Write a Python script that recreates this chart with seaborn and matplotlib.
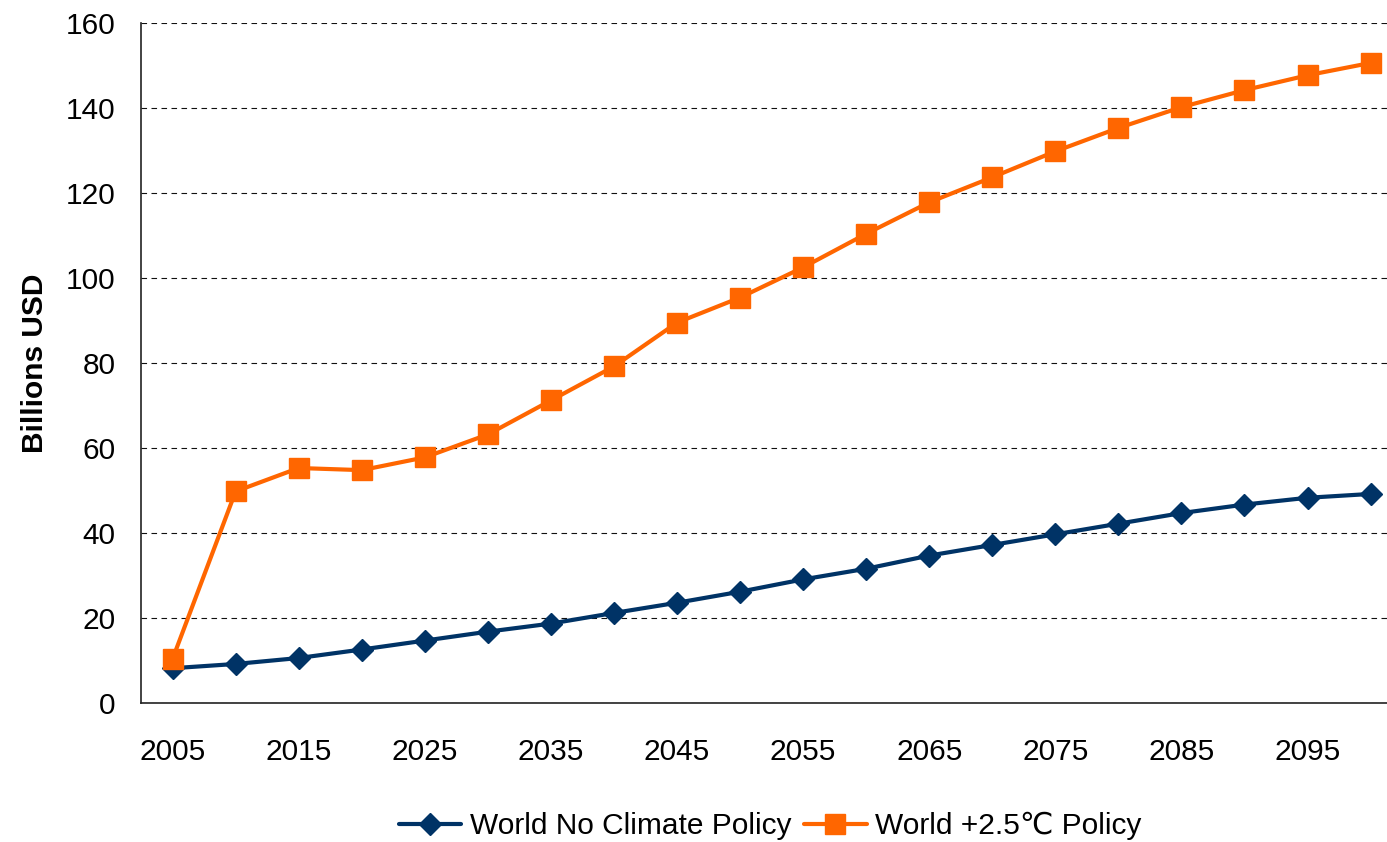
import matplotlib
matplotlib.use("Agg")
import matplotlib.pyplot as plt
import seaborn as sns
import pandas as pd
from matplotlib.ticker import FixedLocator

# values (billions USD)
years = list(range(2005, 2101, 5))
no_policy = [8.2, 9.2, 10.6, 12.6, 14.7, 16.8, 18.7, 21.2, 23.6, 26.2,
             29.1, 31.6, 34.7, 37.2, 39.7, 42.2, 44.7, 46.7, 48.3, 49.2]
policy_25 = [10.4, 49.8, 55.3, 54.8, 57.8, 63.2, 71.2, 79.2, 89.5, 95.4,
             102.5, 110.4, 117.8, 123.7, 129.8, 135.3, 140.2, 144.2, 147.7, 150.6]
label_no = "World No Climate Policy"
label_25 = "World +2.5\u2103 Policy"
ylabel = "Billions USD"

df = pd.DataFrame({"year": years, "no_policy": no_policy, "policy_25": policy_25})

sns.set_style("white")
plt.rcParams["font.family"] = ["Liberation Sans", "DejaVu Sans"]
plt.rcParams["text.color"] = "black"
plt.rcParams["axes.labelcolor"] = "black"
plt.rcParams["xtick.color"] = "black"
plt.rcParams["ytick.color"] = "black"

fig, ax = plt.subplots(figsize=(13.87, 8.42), dpi=100)
fig.subplots_adjust(left=0.1017, right=1.0, top=0.9727, bottom=0.165)

sns.lineplot(data=df, x="year", y="no_policy", ax=ax, color="#003366", lw=3,
             marker="D", ms=11, mec="#003366", mew=1, label=label_no)
sns.lineplot(data=df, x="year", y="policy_25", ax=ax, color="#FF6600", lw=3,
             marker="s", ms=14, mec="#FF6600", mew=1, label=label_25)

ax.set_xlim(2002.5, 2101.3)
ax.set_ylim(0, 160)
ax.set_yticks(range(0, 161, 20))
ax.yaxis.grid(True, color="#111111", linestyle=(0, (5, 4)), linewidth=0.8)
ax.set_axisbelow(True)

# category style x axis: labels at every other point, tick marks between points
ax.set_xticks(years)
ax.set_xticklabels([str(y) if i % 2 == 0 else "" for i, y in enumerate(years)])
ax.xaxis.set_minor_locator(FixedLocator([y - 2.5 for y in years]))
ax.tick_params(axis="x", which="major", length=0, pad=25, labelsize=21.5)
ax.tick_params(axis="x", which="minor", length=7.2, width=1.2, color="#555555", direction="out")
ax.tick_params(axis="y", length=7.2, width=1, color="#222222", direction="out", pad=11, labelsize=21.5)

ax.set_xlabel("")
ax.set_ylabel(ylabel, fontsize=21.5, fontweight="bold", labelpad=12)

for s in ["top", "right"]:
    ax.spines[s].set_visible(False)
for s in ["left", "bottom"]:
    ax.spines[s].set_color("#222222")
    ax.spines[s].set_linewidth(1.2)

leg = ax.legend(loc="center", bbox_to_anchor=(0.505, -0.181), ncol=2, frameon=False,
                handlelength=2.1, handletextpad=0.3, columnspacing=0.4,
                prop={"family": ["Liberation Sans", "DejaVu Sans"], "size": 21.5})

fig.savefig("out.png", dpi=100)
